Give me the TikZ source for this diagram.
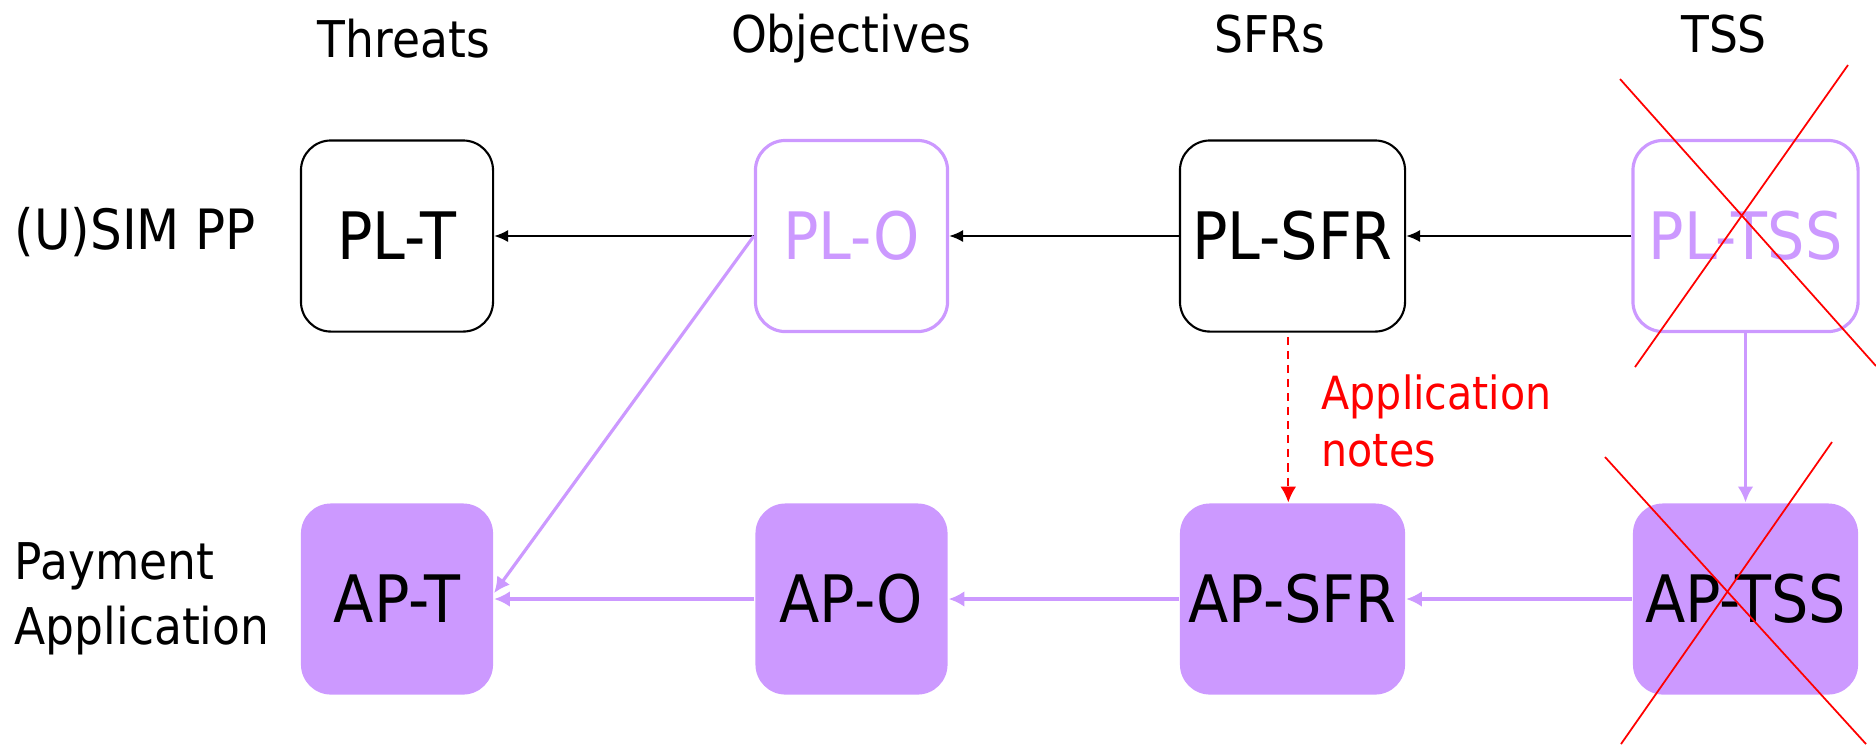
\documentclass[tikz,border=0pt]{standalone}
\usepackage{fontspec}
\setmainfont{DejaVu Sans}[FakeStretch=0.9]
\usepackage{tikz}
\usetikzlibrary{arrows.meta}
\definecolor{lav}{HTML}{CC99FF}
\tikzset{head/.style={anchor=base, font=\fontsize{14.4}{17}\selectfont},
  rowlab/.style={font=\fontsize{14.4}{18.5}\selectfont},
  plbox/.style={draw=black, line width=0.6pt, rounded corners=0.3cm, minimum width=1.92cm, minimum height=1.91cm, inner sep=0pt, font=\fontsize{18.6}{22}\selectfont},
  wide/.style={minimum width=2.25cm},
  faded/.style={draw=lav, text=lav, line width=0.9pt},
  apbox/.style={plbox, draw=none, fill=lav},
  blk/.style={-{Latex[length=4pt,width=3.5pt]}, line width=0.6pt},
  lavarr/.style={-{Latex[length=4.5pt,width=4.5pt]}, draw=lav, line width=0.9pt},
  notearr/.style={-{Latex[length=4.5pt,width=4.5pt]}, red, line width=0.5pt, dash pattern=on 2.3pt off 1.7pt},
  cross/.style={red, line width=0.5pt}}

\begin{document}
\begin{tikzpicture}[x=0.01cm, y=-0.01cm]
  \useasboundingbox (0,0) rectangle (1876,744);
  % column heads
  \node [head] (hthr) at (404,57) {Threats};
  \node [head] (hobj) at (851,52) {Objectives};
  \node [head] (hsfr) at (1270,52) {SFRs};
  \node [head] (htss) at (1724,52) {TSS};
  % row labels
  \node [rowlab, anchor=base west, inner sep=0pt, font=\fontsize{15.8}{19}\selectfont] (rpp) at (14,249) {(U)SIM PP};
  \node [rowlab, anchor=west, align=left, inner sep=0pt] (rap) at (14,599) {Payment\\Application};
  % upper row
  \node [plbox] (plt) at (397,236) {PL-T};
  \node [plbox, faded] (plo) at (851.5,236) {PL-O};
  \node [plbox, wide] (plsfr) at (1292.5,236) {PL-SFR};
  \node [plbox, wide, faded] (pltss) at (1745.5,236) {PL-TSS};
  % lower row
  \node [apbox] (apt) at (397,599) {AP-T};
  \node [apbox] (apo) at (851.5,599) {AP-O};
  \node [apbox, wide] (apsfr) at (1292.5,599) {AP-SFR};
  \node [apbox, wide] (aptss) at (1745.5,599) {AP-TSS};
  \draw [blk] (plo.west) -- (plt.east);
  \draw [blk] (plsfr.west) -- (plo.east);
  \draw [blk] (pltss.west) -- (plsfr.east);
  \draw [lavarr] (plo.west) -- ([yshift=1.7pt]apt.east);
  \draw [lavarr] (apo.west) -- (apt.east);
  \draw [lavarr] (apsfr.west) -- (apo.east);
  \draw [lavarr] (aptss.west) -- (apsfr.east);
  \draw [lavarr] (pltss.south) -- (aptss.north);
  \draw [notearr, shorten <=1.2pt] ([xshift=-1.2pt]plsfr.south) -- ([xshift=-1.2pt]apsfr.north);
  \node [anchor=west, align=left, inner sep=0pt, text=red, font=\fontsize{13}{16.2}\selectfont] (note) at (1321,421) {Application\\notes};
  % struck out
  \draw [cross] (1620,79) -- (1876,366);
  \draw [cross] (1848,65) -- (1635,367);
  \draw [cross] (1605,457) -- (1866,744);
  \draw [cross] (1832,442) -- (1621,744);
\end{tikzpicture}
\end{document}
